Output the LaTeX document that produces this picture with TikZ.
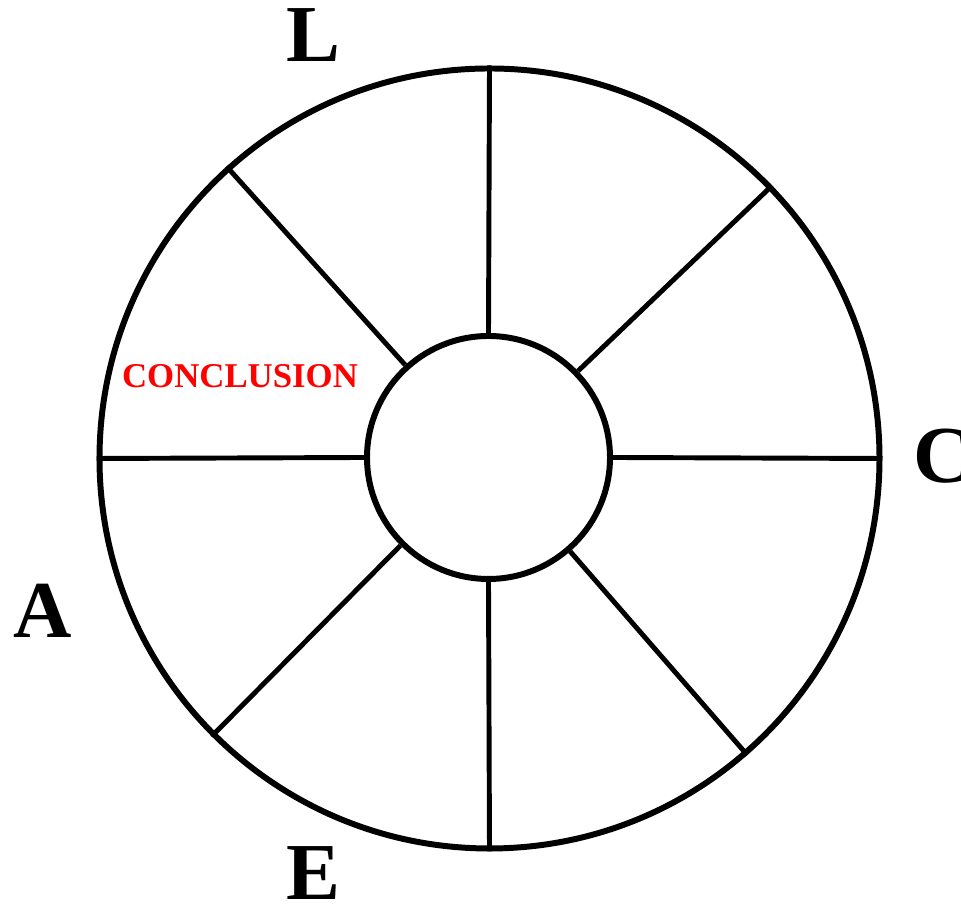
\documentclass[tikz,border=0pt]{standalone}
\usepackage{fontspec}
\setmainfont{Liberation Serif}
\usepackage{tikz}

\tikzset{
  ring/.style={draw, circle, inner sep=0pt, line width=3.4pt},
  letter/.style={anchor=base, inner sep=0pt, font=\bfseries\fontsize{46}{46}\selectfont},
  sector label/.style={anchor=base, inner sep=0pt, text=red, font=\bfseries\fontsize{19.8}{20}\selectfont}
}

\begin{document}
\begin{tikzpicture}[line width=2.8pt]
 \useasboundingbox (0,0) rectangle (19.22,18.08);
 \node[ring, minimum size=15.6cm] (outer) at (9.79,8.91) {};
 \node[ring, minimum size=4.86cm] (hub) at (9.77,8.93) {};

 % spokes from hub to rim
 \foreach \ang in {90,44.8,0,311,270,225.4,180,132.1}
   \draw (hub.\ang) -- (outer.\ang);

 \node[letter] (l) at (6.27,16.84) {L};
 \node[letter] (c) at (18.86,8.42) {C};
 \node[letter] (a) at (0.86,5.32) {A};
 \node[letter] (e) at (6.27,0.08) {E};

 \node[sector label] (concl) at (4.8,10.32) {CONCLUSION};
\end{tikzpicture}
\end{document}
